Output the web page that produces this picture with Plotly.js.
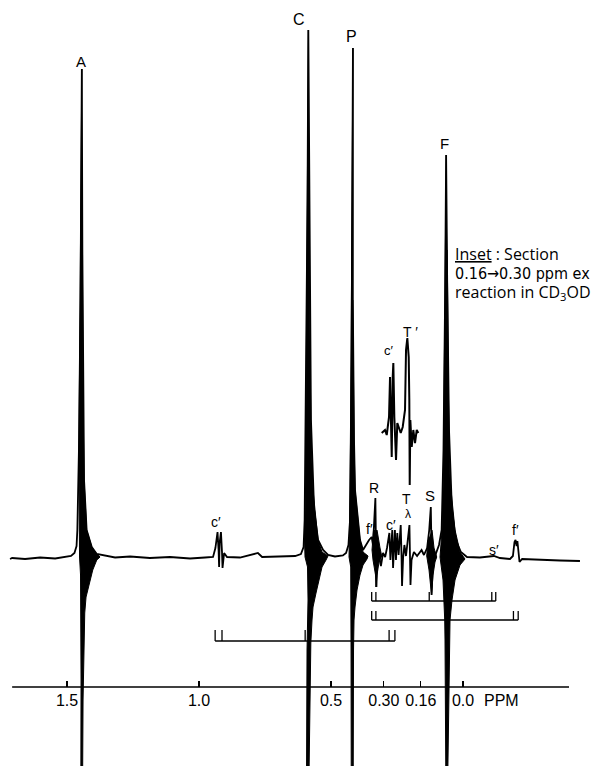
<!DOCTYPE html>
<html><head><meta charset="utf-8">
<script src="https://cdn.plot.ly/plotly-3.0.1.min.js"></script>
<style>html,body{margin:0;padding:0;background:#fff}</style>
</head><body><div id="chart" style="width:602px;height:766px"></div>
<script>
// ---- axis ticks (ppm) ----
const tickVals = [1.5, 1.0, 0.5, 0.30, 0.16, 0.0];
const tickText = ['1.5', '1.0', '0.5', '0.30', '0.16', '0.0'];

// ---- main spectrum trace (shift in ppm, intensity in arbitrary units) ----
const mainShift = [1.716,1.708,1.659,1.602,1.545,1.504,1.485,1.472,1.464,1.461,1.455,1.449,1.444,1.4420,1.4394,1.4356,1.4258,1.4064,1.3875,1.318,1.261,1.186,1.110,1.034,0.977,0.947,0.938,0.930,0.926,0.924,0.922,0.917,0.913,0.911,0.905,0.894,0.845,0.777,0.761,0.693,0.636,0.614,0.604,0.600,0.595,0.589,0.586,0.581,0.576,0.564,0.549,0.530,0.511,0.485,0.455,0.443,0.434,0.428,0.422,0.417,0.4174,0.4129,0.4091,0.3902,0.3788,0.356,0.346,0.341,0.336,0.332,0.330,0.328,0.324,0.318,0.311,0.303,0.295,0.288,0.279,0.275,0.271,0.268,0.265,0.261,0.258,0.254,0.249,0.244,0.240,0.236,0.233,0.231,0.227,0.222,0.216,0.210,0.203,0.201,0.199,0.195,0.186,0.174,0.157,0.148,0.136,0.128,0.122,0.120,0.119,0.114,0.102,0.091,0.081,0.074,0.068,0.064,0.060,0.053,0.042,0.027,0.008,-0.015,-0.064,-0.117,-0.140,-0.178,-0.189,-0.195,-0.199,-0.203,-0.206,-0.210,-0.214,-0.224,-0.292,-0.367,-0.443];
const mainIntensity = [-1,0,-1,0.5,-0.5,1,2,5,12,28,108,258,489,308,158,78,28,11,4,0.5,1.5,0,1,-0.5,0.5,1,10,26,8,-9,15,26,6,-10,5,1,0.5,5,1,1.5,2,4,11,38,158,358,528,358,138,48,18,8,3,1.5,2.5,5,13,38,208,510,258,118,68,18,8,18,21,13,38,60,18,-29,10,3,-8,5,1,10,25,-2,13,28,-10,13,28,-2,25,3,18,33,3,-28,0,13,2,18,33,3,-27,-2,6,2,8,3,10,28,51,18,-37,-4,6,13,28,108,258,403,278,128,48,18,6,1,0.5,2,0,-1,2,16,18,12,17,2,-4,-1,-2,-2.5,-3];

// ---- outlines of the strong lines with their ringing (filled) ----
const ringAShift = [1.444,1.449,1.455,1.4534,1.4527,1.4489,1.4470,1.4470,1.4477,1.4409,1.4394,1.4330,1.4280,1.4129,1.4027,1.3875,1.3750,1.3875,1.4064,1.4258,1.4356,1.4394,1.4420];
const ringAInt = [489,258,108,28,1,-17,-62,-122,-215,-215,-142,-55,-39,-22,-12,-2,1,4,11,28,78,158,308];
const ringCShift = [0.586,0.589,0.5936,0.5966,0.6004,0.5985,0.5890,0.5871,0.5909,0.5928,0.5833,0.5765,0.5720,0.5682,0.5568,0.5455,0.5341,0.5189,0.5114,0.5341,0.5492,0.5682,0.5758,0.5814,0.5836];
const ringCInt = [528,358,158,68,18,1,-9,-42,-92,-215,-215,-85,-62,-49,-35,-22,-9,-2,2,6,18,68,118,258,400];
const ringPShift = [0.417,0.422,0.4261,0.4280,0.4318,0.4318,0.4254,0.4242,0.4242,0.4235,0.4159,0.4148,0.4129,0.4091,0.4015,0.3902,0.3788,0.3636,0.3598,0.3788,0.3902,0.4091,0.4129,0.4174];
const ringPInt = [510,208,118,68,18,1,-9,-49,-92,-215,-215,-92,-62,-49,-32,-17,-7,-1,2,6,18,68,118,258];
const ringFShift = [0.0636,0.0682,0.0701,0.0746,0.0795,0.0871,0.0758,0.0720,0.0693,0.0682,0.0652,0.0576,0.0519,0.0492,0.0417,0.0303,0.0114,-0.0076,0.0114,0.0303,0.0492,0.0549,0.0598];
const ringFInt = [403,258,158,78,28,1,-22,-42,-62,-82,-215,-215,-82,-62,-42,-22,-7,-1,6,28,78,158,308];
const ringRShift = [0.3390,0.3447,0.3409,0.3314,0.3295,0.3258,0.3182,0.3080,0.3144,0.3258];
const ringRInt = [28,8,-2,-17,-29,-17,-4,2,10,28];
const ringSShift = [0.1326,0.1375,0.1288,0.1193,0.1136,0.1061,0.0996,0.1098,0.1174];
const ringSInt = [18,2,-12,-37,-17,-4,1,10,28];

// ---- inset: 0.16 -> 0.30 ppm section, reaction in CD3OD ----
const insetShift = [0.3080,0.2955,0.2890,0.2803,0.2765,0.2739,0.2701,0.2663,0.2640,0.2602,0.2538,0.2489,0.2413,0.2360,0.2284,0.2197,0.2159,0.2110,0.2057,0.2034,0.2019,0.1996,0.1943,0.1883,0.1818,0.1754,0.1693];
const insetInt = [125,128,123,141,181,148,101,181,195,141,98,135,128,125,131,148,208,220,201,158,73,138,111,128,115,128,125];

// ---- coupling brackets (ppm of the bracket legs) ----
const bracketC = [0.939, 0.913, 0.598, 0.280, 0.258];
const bracketS = [0.346, 0.330, 0.128, -0.109, -0.124];
const bracketF = [0.346, 0.330, 0.064, -0.191, -0.209];

const FONT = 'Liberation Sans, Arial, sans-serif';
const WIDE = 'Open Sans, Liberation Sans, Arial, sans-serif';
const NARROW = 'Liberation Sans Narrow, DejaVu Sans Condensed, Liberation Sans, Arial, sans-serif';

function bracketTrace(shifts, level, h) {
  const x = [shifts[0], shifts[shifts.length - 1], null];
  const y = [level, level, null];
  shifts.forEach(s => { x.push(s, s, null); y.push(level, level + h, null); });
  return {x, y, type: 'scatter', mode: 'lines', hoverinfo: 'skip',
          line: {color: '#000', width: 1.3}, showlegend: false};
}
function ring(xs, ys) {
  return {x: xs, y: ys, type: 'scatter', mode: 'lines', fill: 'toself',
          fillcolor: '#000', line: {color: '#000', width: 1}, hoverinfo: 'skip', showlegend: false};
}

const traces = [
  ring(ringAShift, ringAInt), ring(ringCShift, ringCInt), ring(ringPShift, ringPInt),
  ring(ringFShift, ringFInt), ring(ringRShift, ringRInt), ring(ringSShift, ringSInt),
  {x: mainShift, y: mainIntensity, type: 'scatter', mode: 'lines',
   line: {color: '#000', width: 1.8}, showlegend: false},
  {x: insetShift, y: insetInt, type: 'scatter', mode: 'lines',
   line: {color: '#000', width: 2}, showlegend: false},
  bracketTrace(bracketS, -43, 9),
  bracketTrace(bracketF, -62, 9),
  bracketTrace(bracketC, -83, 11)
];

function lab(text, x, y, size) {
  return {text, x, y, xref: 'x', yref: 'y', showarrow: false,
          font: {family: FONT, size: size || 15, color: '#000'}};
}
function note(text, ypx, family, size) {
  return {text, xref: 'paper', yref: 'paper', x: 453 / 602, y: 1 - ypx / 766,
          xanchor: 'left', yanchor: 'middle', align: 'left', showarrow: false,
          font: {family, size, color: '#000'}};
}

const layout = {
  width: 602, height: 766,
  margin: {l: 0, r: 0, t: 0, b: 0},
  paper_bgcolor: '#fff', plot_bgcolor: '#fff',
  showlegend: false,
  xaxis: {
    range: [1.754, -0.5265], domain: [0, 1], anchor: 'free', position: 79 / 766,
    tickvals: tickVals, ticktext: tickText, ticks: 'inside', ticklen: 6, tickwidth: 1.2,
    tickcolor: '#000', showline: false, showgrid: false, zeroline: false,
    ticklabelstandoff: 2,
    tickfont: {family: FONT, size: 16, color: '#000'}
  },
  yaxis: {range: [-208, 558], domain: [0, 1], visible: false, showgrid: false, zeroline: false},
  shapes: [
    {type: 'line', xref: 'x', yref: 'y', x0: 1.708, x1: -0.4015, y0: -129, y1: -129,
     line: {color: '#000', width: 1.6}}
  ],
  annotations: [
    lab('A', 1.447, 497, 15),
    lab('C', 0.621, 539, 16),
    lab('P', 0.424, 522, 16),
    lab('F', 0.072, 415, 15),
    lab('R', 0.337, 70, 14),
    lab("f′", 0.356, 29, 14),
    lab("c′", 0.273, 33, 14),
    lab('T', 0.216, 59, 14),
    lab('λ', 0.210, 44, 12),
    lab('S', 0.125, 63, 15),
    lab("s′", -0.117, 8, 14),
    lab("f′", -0.197, 28, 14),
    lab("c′", 0.936, 36, 14),
    lab("c′", 0.280, 208, 13),
    lab("T ′", 0.199, 226, 14),
    lab('PPM', -0.144, -142, 16),
    note('<u>Inset</u> : Section', 254, WIDE, 16),
    note('0.16→0.30 ppm ex', 273, NARROW, 16),
    note('reaction in CD<sub>3</sub>OD', 292, WIDE, 16)
  ]
};

Plotly.newPlot('chart', traces, layout, {staticPlot: true, displayModeBar: false});
</script>
</body></html>
